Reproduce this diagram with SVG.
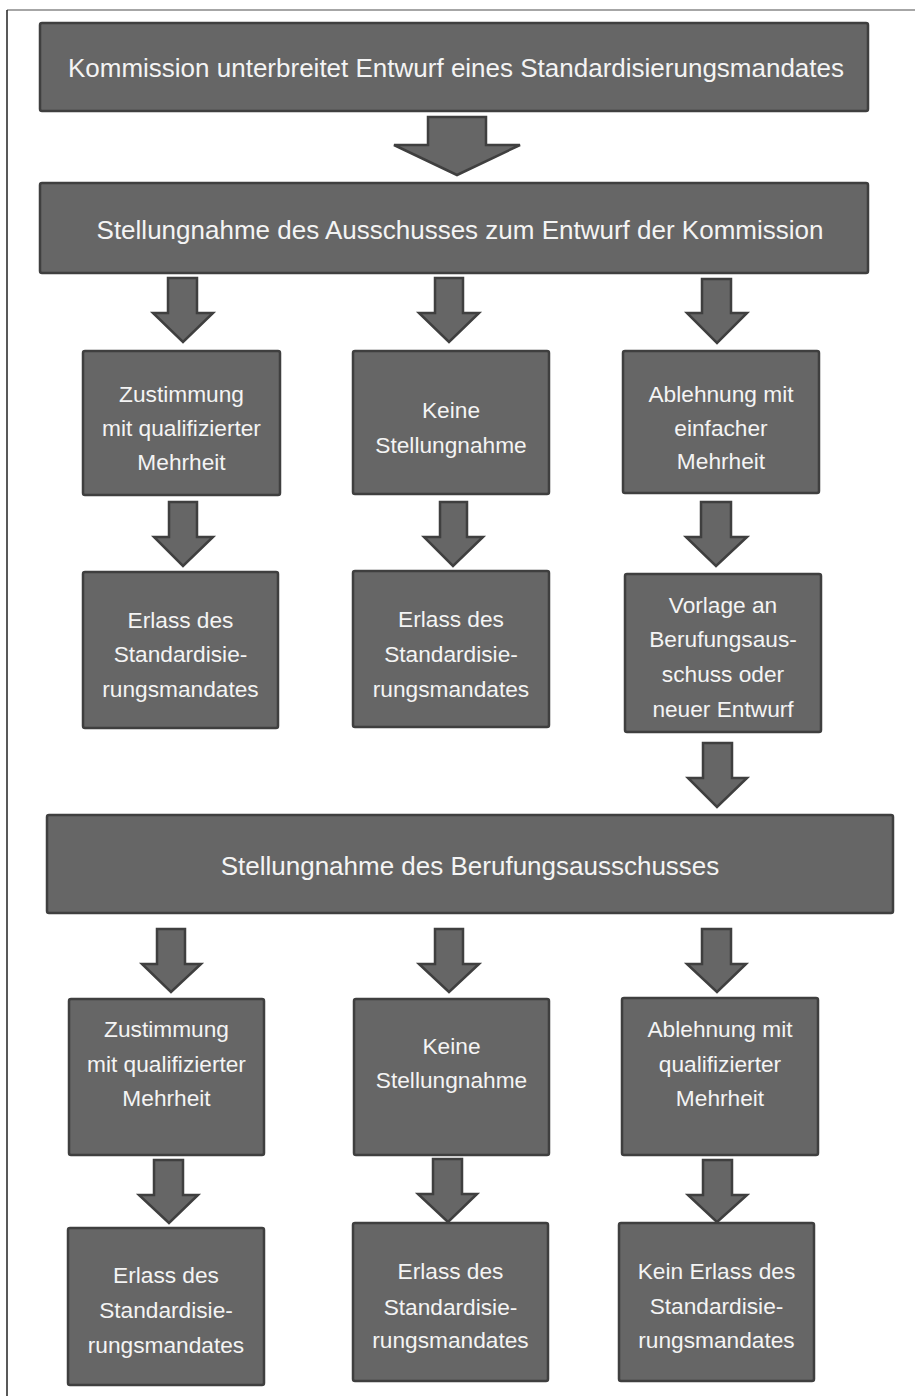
<svg xmlns="http://www.w3.org/2000/svg" width="915" height="1396" viewBox="0 0 915 1396">
<style>
.box{fill:#666666;stroke:#3f3f3f;stroke-width:2.5}
.arr{fill:#666666;stroke:#3f3f3f;stroke-width:2.5;stroke-linejoin:miter}
.big{font-family:"Liberation Sans",Arial,sans-serif;font-size:26px;fill:#f4f4f4;text-anchor:middle}
.sm{font-family:"Liberation Sans",Arial,sans-serif;font-size:22.7px;fill:#f4f4f4;text-anchor:middle}
</style>
<rect width="915" height="1396" fill="#ffffff"/>
<line x1="7" y1="10" x2="915" y2="10" stroke="#888888" stroke-width="1.5"/>
<line x1="7" y1="10" x2="7" y2="1396" stroke="#222222" stroke-width="1.5"/>
<g id="connectors">
<polygon class="arr" points="428,117 486,117 486,145 520,145 457,175 394,145 428,145"/>
<polygon class="arr" points="168,278 197,278 197,313 213,313 183,342 153,313 168,313"/>
<polygon class="arr" points="435,278 463,278 463,313 479,313 449,342 419,313 435,313"/>
<polygon class="arr" points="702,279 731,279 731,313 747,313 717,343 687,313 702,313"/>
<polygon class="arr" points="169,502 197,502 197,537 213,537 183,566 154,537 169,537"/>
<polygon class="arr" points="440,502 467,502 467,537 483,537 453,566 424,537 440,537"/>
<polygon class="arr" points="701,502 731,502 731,537 747,537 716,566 686,537 701,537"/>
<polygon class="arr" points="703,743 732,743 732,778 747,778 717,807 688,778 703,778"/>
<polygon class="arr" points="157,929 185,929 185,964 201,964 171,992 142,964 157,964"/>
<polygon class="arr" points="435,929 463,929 463,964 479,964 449,992 419,964 435,964"/>
<polygon class="arr" points="702,929 731,929 731,964 746,964 717,992 687,964 702,964"/>
<polygon class="arr" points="154,1160 183,1160 183,1195 198,1195 169,1223 139,1195 154,1195"/>
<polygon class="arr" points="433,1159 462,1159 462,1194 477,1194 448,1222 418,1194 433,1194"/>
<polygon class="arr" points="703,1160 732,1160 732,1195 747,1195 717,1222 688,1195 703,1195"/>
</g>
<g id="n1"><rect class="box" x="40" y="23" width="828" height="88" rx="2"/>
<text class="big" x="456" y="77">Kommission unterbreitet Entwurf eines Standardisierungsmandates</text></g>
<g id="n2"><rect class="box" x="40" y="183" width="828" height="90" rx="2"/>
<text class="big" x="460" y="239">Stellungnahme des Ausschusses zum Entwurf der Kommission</text></g>
<g id="n3"><rect class="box" x="83" y="351" width="197" height="144" rx="2"/>
<text class="sm" x="181.5" y="402">Zustimmung</text><text class="sm" x="181.5" y="436">mit qualifizierter</text><text class="sm" x="181.5" y="470">Mehrheit</text></g>
<g id="n4"><rect class="box" x="353" y="351" width="196" height="143" rx="2"/>
<text class="sm" x="451" y="418">Keine</text><text class="sm" x="451" y="453">Stellungnahme</text></g>
<g id="n5"><rect class="box" x="623" y="351" width="196" height="142" rx="2"/>
<text class="sm" x="721" y="402">Ablehnung mit</text><text class="sm" x="721" y="436">einfacher</text><text class="sm" x="721" y="469">Mehrheit</text></g>
<g id="n6"><rect class="box" x="83" y="572" width="195" height="156" rx="2"/>
<text class="sm" x="180.5" y="628">Erlass des</text><text class="sm" x="180.5" y="662">Standardisie-</text><text class="sm" x="180.5" y="697">rungsmandates</text></g>
<g id="n7"><rect class="box" x="353" y="571" width="196" height="156" rx="2"/>
<text class="sm" x="451" y="627">Erlass des</text><text class="sm" x="451" y="662">Standardisie-</text><text class="sm" x="451" y="697">rungsmandates</text></g>
<g id="n8"><rect class="box" x="625" y="574" width="196" height="158" rx="2"/>
<text class="sm" x="723" y="613">Vorlage an</text><text class="sm" x="723" y="647">Berufungsaus-</text><text class="sm" x="723" y="682">schuss oder</text><text class="sm" x="723" y="717">neuer Entwurf</text></g>
<g id="n9"><rect class="box" x="47" y="815" width="846" height="98" rx="2"/>
<text class="big" x="470" y="875">Stellungnahme des Berufungsausschusses</text></g>
<g id="n10"><rect class="box" x="69" y="999" width="195" height="156" rx="2"/>
<text class="sm" x="166.5" y="1037">Zustimmung</text><text class="sm" x="166.5" y="1072">mit qualifizierter</text><text class="sm" x="166.5" y="1106">Mehrheit</text></g>
<g id="n11"><rect class="box" x="354" y="999" width="195" height="156" rx="2"/>
<text class="sm" x="451.5" y="1054">Keine</text><text class="sm" x="451.5" y="1088">Stellungnahme</text></g>
<g id="n12"><rect class="box" x="622" y="998" width="196" height="157" rx="2"/>
<text class="sm" x="720" y="1037">Ablehnung mit</text><text class="sm" x="720" y="1072">qualifizierter</text><text class="sm" x="720" y="1106">Mehrheit</text></g>
<g id="n13"><rect class="box" x="68" y="1228" width="196" height="157" rx="2"/>
<text class="sm" x="166" y="1283">Erlass des</text><text class="sm" x="166" y="1318">Standardisie-</text><text class="sm" x="166" y="1353">rungsmandates</text></g>
<g id="n14"><rect class="box" x="353" y="1223" width="195" height="158" rx="2"/>
<text class="sm" x="450.5" y="1279">Erlass des</text><text class="sm" x="450.5" y="1315">Standardisie-</text><text class="sm" x="450.5" y="1348">rungsmandates</text></g>
<g id="n15"><rect class="box" x="619" y="1223" width="195" height="158" rx="2"/>
<text class="sm" x="716.5" y="1279">Kein Erlass des</text><text class="sm" x="716.5" y="1314">Standardisie-</text><text class="sm" x="716.5" y="1348">rungsmandates</text></g>
</svg>
